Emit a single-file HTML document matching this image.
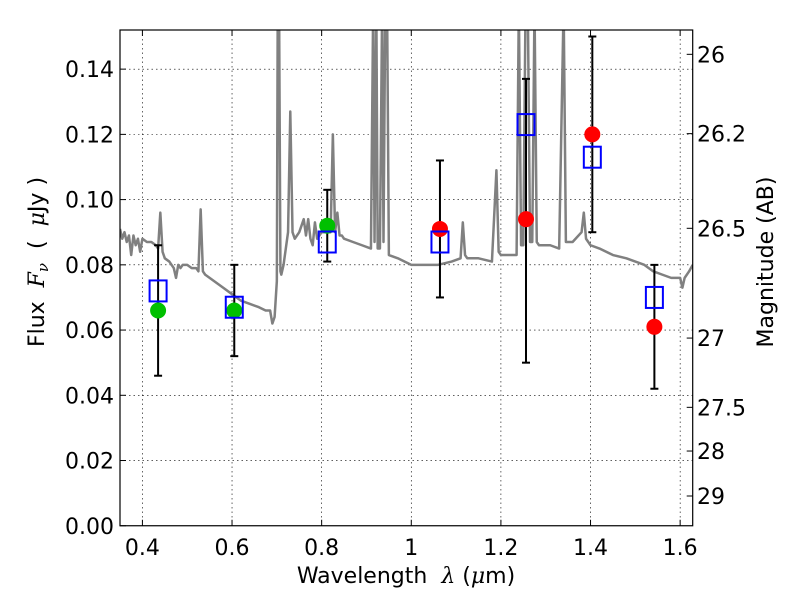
<!DOCTYPE html>
<html><head><meta charset="utf-8"><style>
body{margin:0;background:#fff;}
svg{display:block;font-family:"DejaVu Sans","Liberation Sans",sans-serif;}
</style></head><body>
<svg id="c" width="800" height="600"></svg>
<script>
const xTicks=[0.4,0.6,0.8,1.0,1.2,1.4,1.6];
const xTickLabels=["0.4","0.6","0.8","1","1.2","1.4","1.6"];
const yTicks=[0,0.02,0.04,0.06,0.08,0.10,0.12,0.14];
const yTickLabels=["0.00","0.02","0.04","0.06","0.08","0.10","0.12","0.14"];
const magTicks=[26,26.2,26.5,27,27.5,28,29];
const magTickLabels=["26","26.2","26.5","27","27.5","28","29"];
const specWave=[0.35,0.355,0.36,0.365,0.37,0.375,0.38,0.385,0.39,0.395,0.40,0.41,0.42,0.43,0.435,0.44,0.445,0.45,0.46,0.47,0.475,0.48,0.485,0.49,0.50,0.51,0.52,0.525,0.53,0.535,0.54,0.56,0.58,0.60,0.62,0.64,0.66,0.675,0.685,0.69,0.695,0.70,0.702,0.705,0.708,0.71,0.715,0.72,0.725,0.73,0.735,0.74,0.75,0.76,0.765,0.77,0.775,0.78,0.785,0.79,0.80,0.81,0.82,0.825,0.83,0.835,0.84,0.845,0.85,0.87,0.89,0.91,0.915,0.918,0.922,0.925,0.93,0.935,0.938,0.942,0.946,0.95,0.97,1.0,1.03,1.06,1.09,1.11,1.115,1.12,1.125,1.13,1.15,1.18,1.185,1.19,1.195,1.20,1.22,1.235,1.24,1.245,1.25,1.255,1.26,1.265,1.27,1.275,1.28,1.285,1.29,1.31,1.33,1.34,1.345,1.35,1.36,1.38,1.385,1.39,1.395,1.40,1.42,1.45,1.48,1.5,1.52,1.54,1.56,1.58,1.60,1.605,1.61,1.62,1.628];
const specFlux=[0.091,0.088,0.090,0.087,0.089,0.083,0.089,0.086,0.088,0.084,0.088,0.087,0.087,0.086,0.085,0.096,0.084,0.082,0.081,0.079,0.076,0.080,0.079,0.080,0.080,0.079,0.079,0.078,0.097,0.078,0.077,0.075,0.073,0.071,0.069,0.068,0.067,0.066,0.066,0.062,0.064,0.075,0.16,0.16,0.078,0.077,0.080,0.085,0.090,0.127,0.090,0.088,0.090,0.094,0.089,0.094,0.088,0.086,0.093,0.088,0.090,0.090,0.090,0.120,0.090,0.096,0.089,0.089,0.088,0.087,0.086,0.085,0.16,0.087,0.16,0.085,0.085,0.16,0.087,0.16,0.16,0.083,0.082,0.080,0.080,0.080,0.081,0.082,0.093,0.083,0.082,0.082,0.082,0.081,0.095,0.109,0.084,0.083,0.083,0.083,0.16,0.086,0.086,0.16,0.16,0.087,0.087,0.16,0.087,0.086,0.086,0.086,0.085,0.16,0.087,0.087,0.087,0.090,0.096,0.088,0.087,0.086,0.085,0.083,0.082,0.081,0.080,0.078,0.077,0.076,0.076,0.073,0.076,0.078,0.080];
const photWave=[0.435,0.605,0.8125,1.064,1.256,1.404,1.5425];
const obsFlux=[0.066,0.066,0.092,0.091,0.094,0.120,0.061];
const modelFlux=[0.072,0.067,0.087,0.087,0.123,0.113,0.070];
const errLow=[0.046,0.052,0.081,0.070,0.050,0.090,0.042];
const errHigh=[0.086,0.080,0.103,0.112,0.137,0.150,0.080];
const obsColor=["#00c000","#00c000","#00c000","red","red","red","red"];

const L=120,R=692.7,T=30,B=525.75,xmin=0.35,xmax=1.628,ymin=0,ymax=0.152;
const X=v=>L+(v-xmin)/(xmax-xmin)*(R-L);
const Y=v=>B-(v-ymin)/(ymax-ymin)*(B-T);
const NS="http://www.w3.org/2000/svg";
const svg=document.getElementById('c');
function mk(t,a,p){const e=document.createElementNS(NS,t);for(const k in a)e.setAttribute(k,a[k]);(p||svg).appendChild(e);return e;}
const defs=mk('defs',{});const cp=mk('clipPath',{id:'clip'},defs);mk('rect',{x:L,y:T,width:R-L,height:B-T},cp);

xTicks.forEach((v,i)=>{
 const g=mk('line',{x1:X(v),x2:X(v),y1:T,y2:B,stroke:'#000','stroke-width':0.6,'stroke-dasharray':'1.5,3'});
 
 mk('line',{x1:X(v),x2:X(v),y1:B,y2:B-6,stroke:'#000'});mk('line',{x1:X(v),x2:X(v),y1:T,y2:T+6,stroke:'#000'});
 const t=mk('text',{x:X(v),y:B+29,'font-size':22,'text-anchor':'middle'});t.textContent=xTickLabels[i];
 
});
yTicks.forEach((v,i)=>{
 const g=mk('line',{x1:L,x2:R,y1:Y(v),y2:Y(v),stroke:'#000','stroke-width':0.6,'stroke-dasharray':'1.5,3'});
 
 mk('line',{x1:L,x2:L+6,y1:Y(v),y2:Y(v),stroke:'#000'});
 const t=mk('text',{x:114,y:Y(v)+8,'font-size':22,'text-anchor':'end'});t.textContent=yTickLabels[i];
 
});
magTicks.forEach((m,i)=>{
 const f=Math.pow(10,(23.9-m)/2.5);
 mk('line',{x1:R,x2:R-6,y1:Y(f),y2:Y(f),stroke:'#000'});
 const t=mk('text',{x:697,y:Y(f)+8,'font-size':22});t.textContent=magTickLabels[i];
 
});
const gp=mk('g',{'clip-path':'url(#clip)'});
const sp=mk('polyline',{points:specWave.map((w,i)=>X(w)+','+Y(specFlux[i])).join(' '),fill:'none',stroke:'#808080','stroke-width':2.5,'stroke-linejoin':'round'},gp);

photWave.forEach((w,i)=>{
 const x=X(w);
 const e=mk('g',{},gp);
 mk('line',{x1:x,x2:x,y1:Y(errLow[i]),y2:Y(errHigh[i]),stroke:'#000','stroke-width':2},e);
 mk('line',{x1:x-4,x2:x+4,y1:Y(errLow[i]),y2:Y(errLow[i]),stroke:'#000','stroke-width':2},e);
 mk('line',{x1:x-4,x2:x+4,y1:Y(errHigh[i]),y2:Y(errHigh[i]),stroke:'#000','stroke-width':2},e);
 const c=mk('circle',{cx:x,cy:Y(obsFlux[i]),r:8,fill:obsColor[i]},gp);
 
 const s=mk('rect',{x:x-8.5,y:Y(modelFlux[i])-10.5,width:17,height:21,fill:'none',stroke:'blue','stroke-width':2},gp);
 
});
const fr=mk('rect',{x:L,y:T,width:R-L,height:B-T,fill:'none',stroke:'#000','stroke-width':1.2});

const xl=mk('text',{x:406,y:583,'font-size':22,'text-anchor':'middle'});
xl.innerHTML='Wavelength \u00a0<tspan font-style="italic" font-family="DejaVu Serif,serif">λ</tspan> (<tspan font-style="italic" font-family="DejaVu Serif,serif">μ</tspan>m)';

const yl=mk('text',{x:44,y:262,'font-size':22,'text-anchor':'middle',transform:'rotate(-90 44 262)'});
yl.innerHTML='Flux \u00a0<tspan font-style="italic" font-family="DejaVu Serif,serif">F<tspan font-size="15" dy="4">ν</tspan></tspan><tspan dy="-4"> \u00a0( \u00a0</tspan><tspan font-style="italic" font-family="DejaVu Serif,serif">μ</tspan>Jy )';

const ml=mk('text',{x:773,y:262,'font-size':22,'text-anchor':'middle',transform:'rotate(-90 773 262)'});
ml.textContent='Magnitude (AB)';

</script>
</body></html>
